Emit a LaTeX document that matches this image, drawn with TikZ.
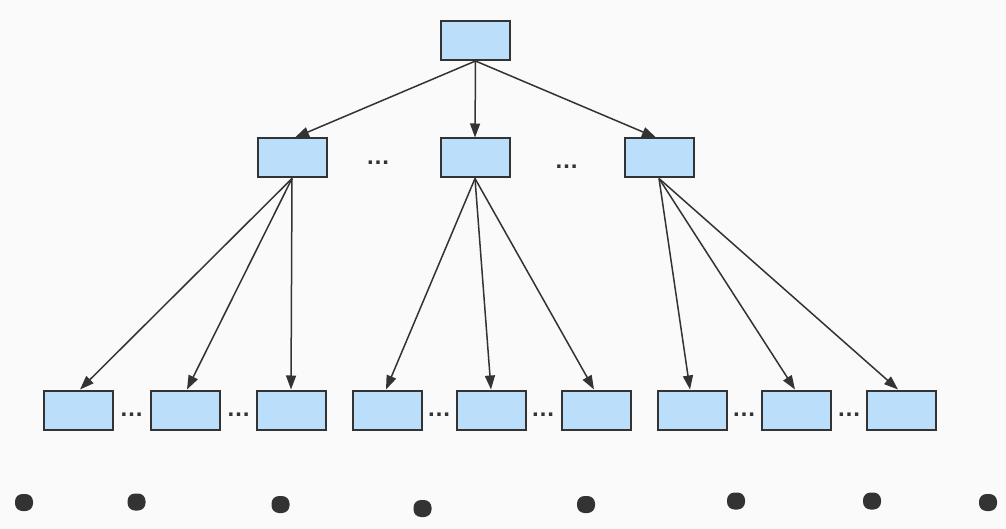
\documentclass[tikz,border=0pt]{standalone}
\usepackage{fontspec}
\setmainfont{Liberation Sans}
\usetikzlibrary{arrows.meta}
\definecolor{bg}{HTML}{FAFAFA}
\definecolor{boxfill}{HTML}{BBDEFB}
\definecolor{ink}{HTML}{333333}
\begin{document}
\begin{tikzpicture}[x=1pt,y=-1pt,
  box/.style={draw=ink,fill=boxfill,line width=2pt,minimum width=69pt,minimum height=39pt,inner sep=0pt},
  conn/.style={draw=ink,line width=1.5pt,-{Triangle[length=14pt,width=10pt]}},
  ell/.style={anchor=base,inner sep=0pt,text=ink,font=\bfseries\fontsize{24}{24}\selectfont},
  blob/.style={fill=ink,rounded corners=7.5pt}]
\fill[bg] (0,0) rectangle (1006,529);
\useasboundingbox (0,0) rectangle (1006,529);
% top
\node[box] (r) at (475.5,41) {};
% middle
\node[box] (m1) at (292,158) {};
\node[box] (m2) at (475,158) {};
\node[box] (m3) at (659,158) {};
\node[ell] (e1) at (378,164.5) {…};
\node[ell] (e2) at (566.5,168.5) {…};
% bottom
\foreach \n/\x in {a1/78,a2/185,a3/291,b1/387,b2/491,b3/596,c1/692,c2/796,c3/901}
  \node[box] (\n) at (\x,410) {};
\foreach \n/\x in {d1/131.5,d2/238.5,d3/439,d4/543,d5/744,d6/849}
  \node[ell] (\n) at (\x,416.5) {…};
% connectors
\coordinate (rs) at (475.5,61);
\draw[conn] (rs) -- ([xshift=3pt]m1.north);
\draw[conn] (rs) -- (m2.north);
\draw[conn] (rs) -- ([xshift=-3pt]m3.north);
\draw[conn] (m1.south) -- ([xshift=2pt]a1.north);
\draw[conn] (m1.south) -- ([xshift=2pt]a2.north);
\draw[conn] (m1.south) -- (a3.north);
\draw[conn] (m2.south) -- ([xshift=-1pt]b1.north);
\draw[conn] (m2.south) -- (b2.north);
\draw[conn] (m2.south) -- ([xshift=-2pt]b3.north);
\draw[conn] (m3.south) -- ([xshift=-2pt]c1.north);
\draw[conn] (m3.south) -- ([xshift=-1pt]c2.north);
\draw[conn] (m3.south) -- ([xshift=-3pt]c3.north);
% bottom blobs
\foreach \x/\y in {24/502.5,136.5/502,280.5/504.5,422.5/508.5,586/504.5,736/501,872/501,988/502.5}
  \fill[blob] (\x-9,\y-8.5) rectangle (\x+9,\y+8.5);
\end{tikzpicture}
\end{document}
